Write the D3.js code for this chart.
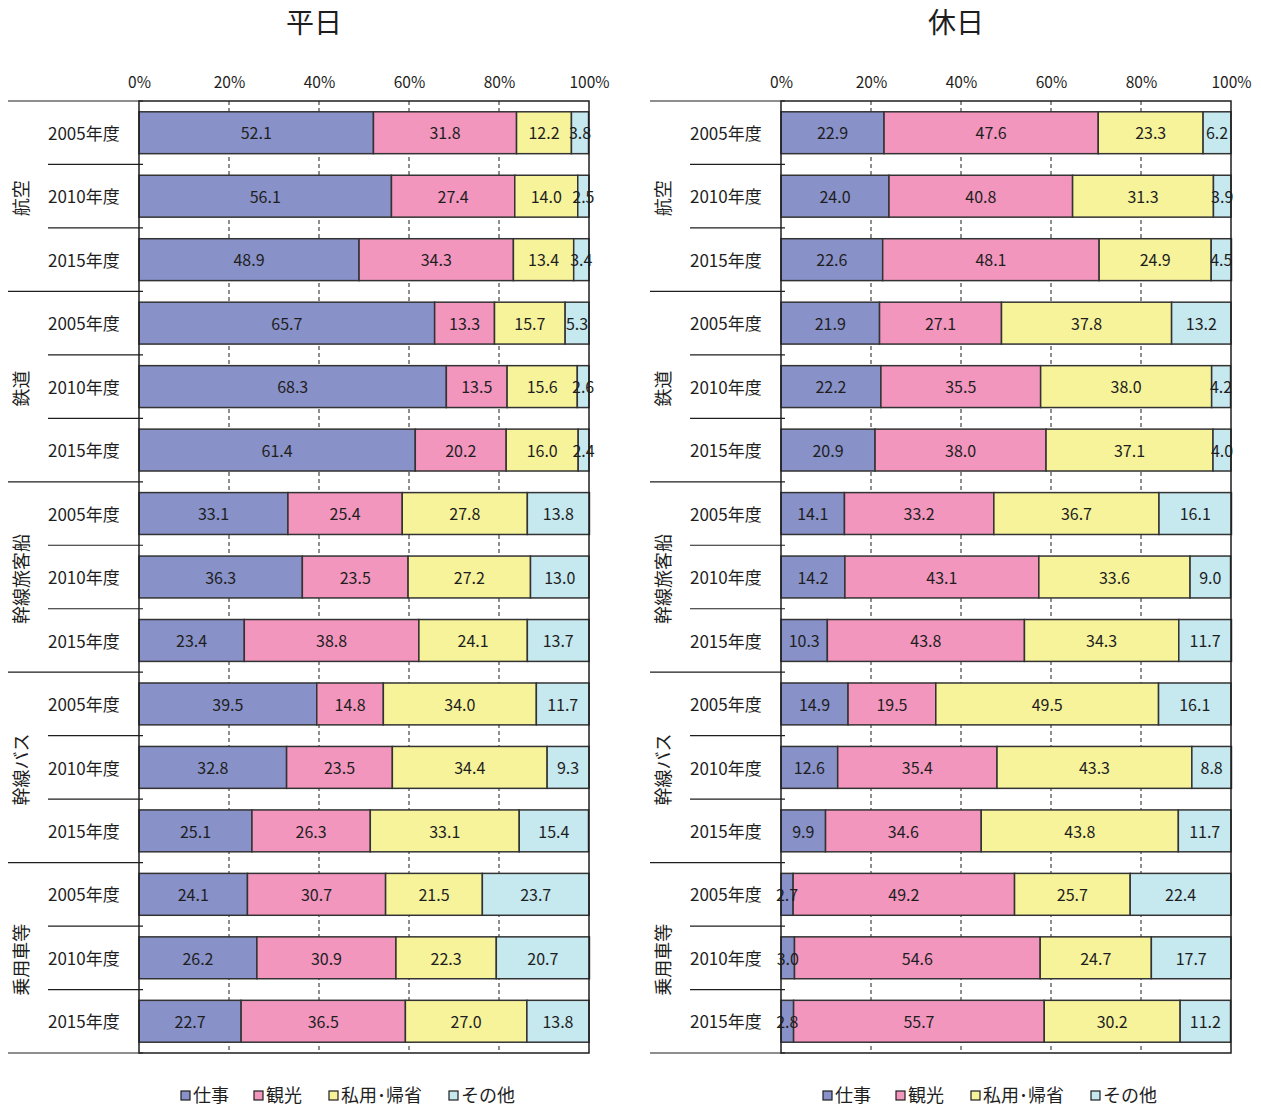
<!DOCTYPE html>
<html lang="ja">
<head>
<meta charset="utf-8">
<script src="https://cdn.jsdelivr.net/npm/d3@7"></script>
<style>
  html, body { margin: 0; padding: 0; background: #fff; }
  svg { display: block; font-family: "Noto Sans CJK JP", "Noto Sans", sans-serif; }
</style>
</head>
<body>
<svg id="chart" width="1261" height="1108"></svg>
<script>
// Travel purpose shares by transport mode (%), weekday vs holiday
const modes = ["航空", "鉄道", "幹線旅客船", "幹線バス", "乗用車等"];
const years = ["2005年度", "2010年度", "2015年度"];
const seriesNames = ["仕事", "観光", "私用･帰省", "その他"];
const seriesColors = ["#8891c8", "#f296be", "#f7f39b", "#c6e8ef"];
const tickValues = [0, 20, 40, 60, 80, 100];
const panelTitles = ["平日", "休日"];

// Weekday (平日): one value per mode × year row, in mode order then year order
const wdWork    = [52.1, 56.1, 48.9, 65.7, 68.3, 61.4, 33.1, 36.3, 23.4, 39.5, 32.8, 25.1, 24.1, 26.2, 22.7];
const wdTour    = [31.8, 27.4, 34.3, 13.3, 13.5, 20.2, 25.4, 23.5, 38.8, 14.8, 23.5, 26.3, 30.7, 30.9, 36.5];
const wdPrivate = [12.2, 14.0, 13.4, 15.7, 15.6, 16.0, 27.8, 27.2, 24.1, 34.0, 34.4, 33.1, 21.5, 22.3, 27.0];
const wdOther   = [3.8, 2.5, 3.4, 5.3, 2.6, 2.4, 13.8, 13.0, 13.7, 11.7, 9.3, 15.4, 23.7, 20.7, 13.8];

// Holiday (休日)
const hdWork    = [22.9, 24.0, 22.6, 21.9, 22.2, 20.9, 14.1, 14.2, 10.3, 14.9, 12.6, 9.9, 2.7, 3.0, 2.8];
const hdTour    = [47.6, 40.8, 48.1, 27.1, 35.5, 38.0, 33.2, 43.1, 43.8, 19.5, 35.4, 34.6, 49.2, 54.6, 55.7];
const hdPrivate = [23.3, 31.3, 24.9, 37.8, 38.0, 37.1, 36.7, 33.6, 34.3, 49.5, 43.3, 43.8, 25.7, 24.7, 30.2];
const hdOther   = [6.2, 3.9, 4.5, 13.2, 4.2, 4.0, 16.1, 9.0, 11.7, 16.1, 8.8, 11.7, 22.4, 17.7, 11.2];

const rowKeys = [];
modes.forEach(m => years.forEach(y => rowKeys.push(m + "|" + y)));

function buildRows(series) {
  return rowKeys.map((key, i) => {
    const row = { key };
    seriesNames.forEach((s, j) => { row[s] = series[j][i]; });
    return row;
  });
}

const panels = [
  { title: panelTitles[0], left: 139, rows: buildRows([wdWork, wdTour, wdPrivate, wdOther]) },
  { title: panelTitles[1], left: 781, rows: buildRows([hdWork, hdTour, hdPrivate, hdOther]) }
];

const svg = d3.select("#chart");
const plotTop = 101, plotW = 450, plotH = 952;
const ink = "#1e1e1e";

const x = d3.scaleLinear().domain([0, 100]).range([0, plotW]);
const y = d3.scaleBand().domain(rowKeys).range([0, plotH]).paddingInner(0.34).paddingOuter(0.17);
const step = y.step();
const color = d3.scaleOrdinal().domain(seriesNames).range(seriesColors);
const stack = d3.stack().keys(seriesNames);

panels.forEach(p => {
  const g = svg.append("g").attr("transform", `translate(${p.left},${plotTop})`);

  // panel title
  g.append("text")
    .attr("x", 175).attr("y", -68)
    .attr("text-anchor", "middle")
    .attr("font-size", 28)
    .attr("fill", ink)
    .text(p.title);

  // percent axis along the top
  const axis = g.append("g")
    .call(d3.axisTop(x).tickValues(tickValues).tickFormat(d => d + "%").tickSize(0).tickPadding(13));
  axis.select(".domain").remove();
  axis.selectAll("text").attr("font-size", 15.5).attr("fill", ink)
    .attr("font-family", "'Noto Sans CJK JP', sans-serif");

  // dashed gridlines
  g.append("g").selectAll("line")
    .data(tickValues.filter(t => t > 0 && t < 100))
    .join("line")
    .attr("x1", d => x(d)).attr("x2", d => x(d))
    .attr("y1", 0).attr("y2", plotH)
    .attr("stroke", ink).attr("stroke-width", 1)
    .attr("stroke-dasharray", "4,3");

  // stacked bars
  const layers = stack(p.rows);
  const layerG = g.append("g").selectAll("g")
    .data(layers)
    .join("g")
    .attr("fill", d => color(d.key));
  layerG.selectAll("rect")
    .data(d => d)
    .join("rect")
    .attr("x", d => x(d[0]))
    .attr("y", d => y(d.data.key))
    .attr("width", d => x(d[1]) - x(d[0]))
    .attr("height", y.bandwidth())
    .attr("stroke", "#333")
    .attr("stroke-width", 1.5);

  // value labels centred in each segment
  const labelG = g.append("g");
  layers.forEach(layer => {
    labelG.selectAll(null)
      .data(layer)
      .join("text")
      .attr("x", d => x((d[0] + d[1]) / 2))
      .attr("y", d => y(d.data.key) + y.bandwidth() / 2 + 1)
      .attr("dy", "0.36em")
      .attr("text-anchor", "middle")
      .attr("font-size", 16)
      .attr("fill", ink)
      .text(d => d.data[layer.key].toFixed(1));
  });

  // plot frame
  g.append("rect")
    .attr("x", 0).attr("y", 0).attr("width", plotW).attr("height", plotH)
    .attr("fill", "none").attr("stroke", ink).attr("stroke-width", 1.5);

  // row separators in the category area
  const sep = g.append("g");
  d3.range(rowKeys.length + 1).forEach(i => {
    const isGroup = i % years.length === 0;
    sep.append("line")
      .attr("x1", isGroup ? -131 : -91).attr("x2", 4)
      .attr("y1", i * step).attr("y2", i * step)
      .attr("stroke", ink).attr("stroke-width", 1.2);
  });

  // year labels
  g.append("g").selectAll("text")
    .data(rowKeys)
    .join("text")
    .attr("x", -91)
    .attr("y", d => y(d) + y.bandwidth() / 2 + 1)
    .attr("dy", "0.36em")
    .attr("font-size", 17)
    .attr("fill", ink)
    .text(d => d.split("|")[1]);

  // mode labels, rotated
  g.append("g").selectAll("text")
    .data(modes)
    .join("text")
    .attr("transform", (d, i) => `translate(-117,${(i + 0.5) * step * years.length + 2}) rotate(-90)`)
    .attr("text-anchor", "middle")
    .attr("dy", "0.36em")
    .attr("font-size", 18)
    .attr("fill", ink)
    .text(d => d);

  // legend
  const legendX = [42, 115, 190, 310];
  const lg = g.append("g").attr("transform", `translate(0,${plotH + 43})`);
  seriesNames.forEach((s, i) => {
    const item = lg.append("g").attr("transform", `translate(${legendX[i]},0)`);
    item.append("rect")
      .attr("x", 0).attr("y", -5).attr("width", 9).attr("height", 9)
      .attr("fill", color(s)).attr("stroke", ink).attr("stroke-width", 1.2);
    item.append("text")
      .attr("x", 12).attr("y", 0).attr("dy", "0.36em")
      .attr("font-size", 18).attr("fill", ink)
      .text(s);
  });
});
</script>
</body>
</html>
